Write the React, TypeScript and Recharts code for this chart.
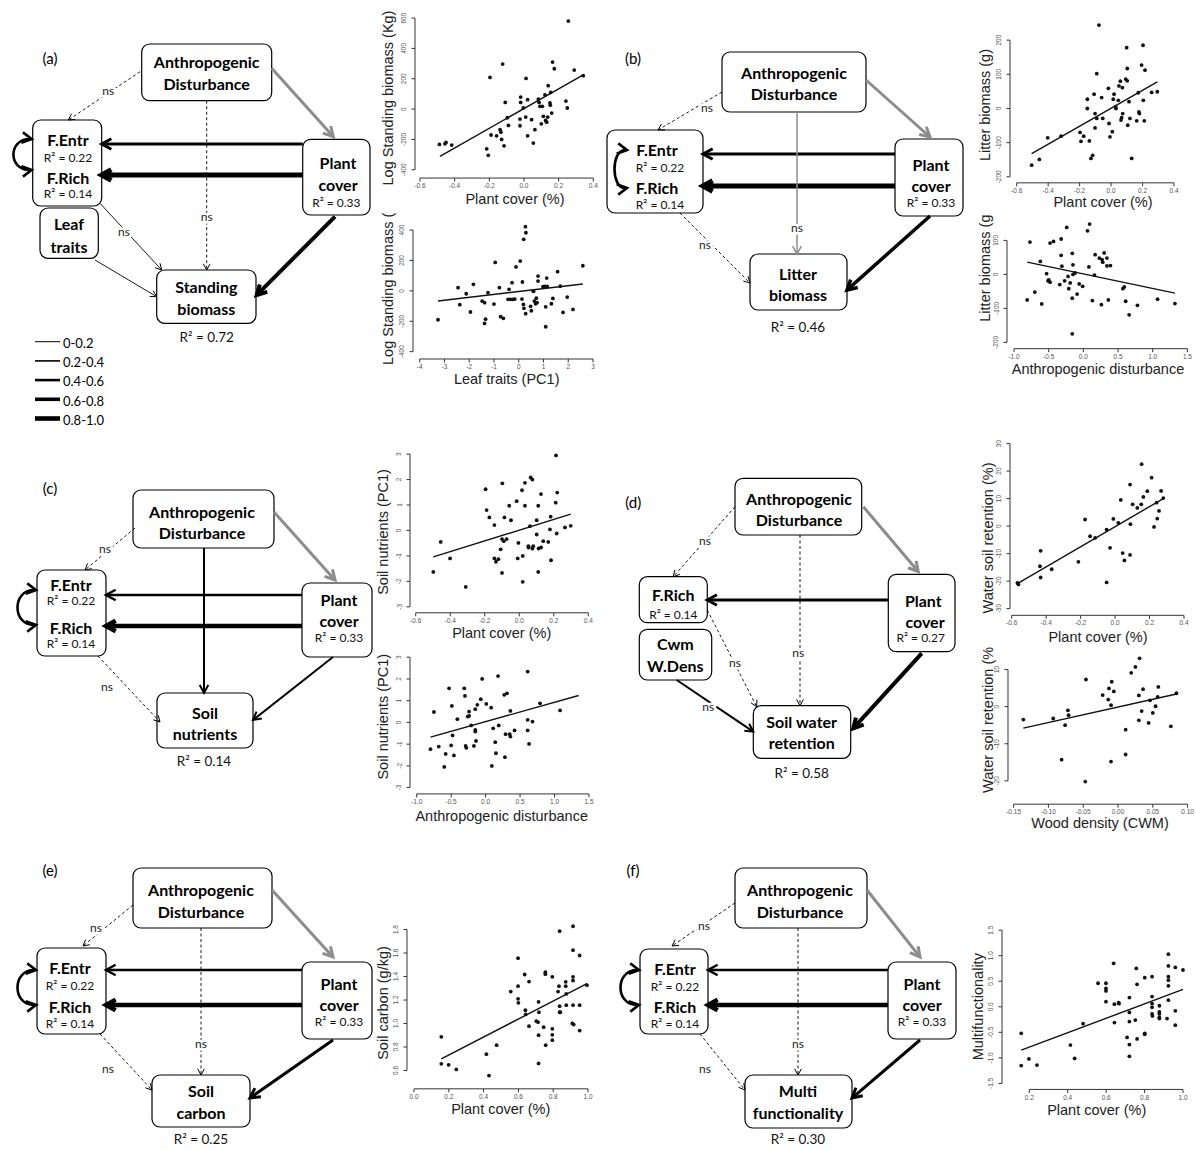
import React from "react";
import { ScatterChart, Scatter, XAxis, YAxis, ReferenceLine } from "recharts";

type Pair = [number, number];

// ---------- scatter data ----------
const standingByCover: Pair[] = [
  [-0.488, -233], [-0.456, -229], [-0.45, -220], [-0.417, -237], [-0.215, -262], [-0.206, -305],
  [-0.196, 209], [-0.19, -171], [-0.158, -176], [-0.138, -136], [-0.133, -152], [-0.129, -200],
  [-0.123, 297], [-0.115, -242], [-0.108, 44], [-0.096, -57], [-0.09, -108], [-0.019, 79],
  [-0.019, 44], [-0.023, -66], [-0.023, -110], [-0.004, 7], [0.012, 202], [0.01, -53],
  [0.021, 62], [0.021, -176], [0.044, -70], [0.054, -224], [0.063, -136], [0.083, 66],
  [0.087, 44], [0.092, 18], [0.1, -97], [0.106, 18], [0.112, -48], [0.121, 94], [0.125, -75],
  [0.131, -86], [0.14, 154], [0.137, -53], [0.15, 40], [0.154, 110], [0.152, 26], [0.16, -26],
  [0.165, 310], [0.175, 266], [0.242, 53], [0.25, 7], [0.256, 580], [0.29, 257], [0.342, 220],
];
const standingByCoverFit: Pair[] = [[-0.485, -312], [0.342, 226]];

const standingByLeaf: Pair[] = [
  [-3.26, -190], [-2.45, 21], [-2.38, -91], [-2.12, -19], [-1.95, -139], [-1.83, 43], [-1.48, -67],
  [-1.38, -78], [-1.38, -214], [-1.34, -186], [-1.24, -12], [-1.0, -87], [-0.95, 187], [-0.78, 21],
  [-0.73, -170], [-0.62, -181], [-0.43, -56], [-0.39, 10], [-0.33, -56], [-0.27, 54], [-0.23, -56],
  [-0.16, -54], [-0.11, 157], [0.06, 196], [0.13, -54], [0.15, 58], [0.19, -89], [0.2, 339],
  [0.21, -115], [0.27, 422], [0.28, -150], [0.29, 382], [0.48, -102], [0.51, -131], [0.58, 0],
  [0.6, -3], [0.63, -67], [0.68, -85], [0.71, -48], [0.74, -78], [0.78, 97], [0.78, 64],
  [0.98, 27], [1.05, 29], [1.09, -105], [1.09, -236], [1.13, 84], [1.15, 29], [1.32, -85],
  [1.38, -50], [1.57, 126], [1.68, 31], [1.79, -142], [1.96, -41], [2.19, -122], [2.59, 165],
];
const standingByLeafFit: Pair[] = [[-3.26, -67], [2.59, 45]];

const litterByCover: Pair[] = [
  [-0.505, -166], [-0.456, -149], [-0.403, -86], [-0.318, -81], [-0.197, -70], [-0.191, -96],
  [-0.174, -81], [-0.151, 27], [-0.151, 0], [-0.138, -95], [-0.128, -146], [-0.117, -137],
  [-0.108, 42], [-0.102, -15], [-0.102, -57], [-0.091, 102], [-0.091, -29], [-0.077, 244],
  [-0.06, 32], [-0.053, -29], [-0.017, 59], [-0.013, -44], [-0.007, -83], [0.008, -68],
  [0.014, 27], [0.019, 42], [0.029, 5], [0.031, 0], [0.046, 24], [0.05, 66], [0.059, 80],
  [0.063, -34], [0.067, -27], [0.072, 61], [0.074, -15], [0.093, 86], [0.099, 178], [0.103, 81],
  [0.103, 117], [0.106, -49], [0.114, 20], [0.12, -29], [0.131, -146], [0.163, -36], [0.173, 46],
  [0.177, -10], [0.18, -15], [0.194, 127], [0.203, 185], [0.205, 24], [0.216, 112], [0.211, -36],
  [0.258, 47], [0.294, 49],
];
const litterByCoverFit: Pair[] = [[-0.505, -132], [0.294, 78]];

const litterByDisturbance: Pair[] = [
  [-0.81, -75], [-0.77, 95], [-0.7, -52], [-0.62, 38], [-0.6, -87], [-0.53, 2], [-0.51, -19],
  [-0.5, -16], [-0.48, -23], [-0.48, 92], [-0.43, 97], [-0.34, -30], [-0.32, 104], [-0.32, 56],
  [-0.31, 24], [-0.27, -19], [-0.24, 138], [-0.22, -6], [-0.21, -42], [-0.19, -25], [-0.16, 62],
  [-0.16, -70], [-0.16, -175], [-0.15, 28], [-0.15, 0], [-0.12, 4], [-0.09, -58], [-0.06, -28],
  [-0.01, -35], [0.06, 128], [0.08, 22], [0.09, 148], [0.13, -77], [0.16, -2], [0.17, 58],
  [0.23, 48], [0.26, -89], [0.27, 43], [0.28, 36], [0.3, 63], [0.34, 48], [0.34, 25], [0.36, -75],
  [0.39, 26], [0.57, -42], [0.59, -37], [0.61, -79], [0.66, -119], [0.78, -91], [1.07, -73],
  [1.32, -86],
];
const litterByDisturbanceFit: Pair[] = [[-0.81, 36], [1.32, -55]];

const nutrientsByCover: Pair[] = [
  [-0.498, -1.63], [-0.455, -0.45], [-0.401, -1.1], [-0.31, -2.22], [-0.195, 1.62], [-0.189, 0.8],
  [-0.173, 0.51], [-0.144, 0.21], [-0.144, -1.1], [-0.135, -1.23], [-0.121, -1.13], [-0.108, -0.74],
  [-0.1, -0.34], [-0.1, -1.67], [-0.098, 1.85], [-0.09, -0.42], [-0.086, 0.51], [-0.073, -0.34],
  [-0.058, 0.97], [-0.048, 0.4], [-0.015, 1.15], [-0.009, -1.1], [-0.005, -0.49], [0.016, 1.58],
  [0.02, -2.02], [0.02, -1.0], [0.033, 1.87], [0.033, 0.97], [0.053, -0.62], [0.054, -0.67],
  [0.062, 0.17], [0.066, 2.08], [0.076, 2.0], [0.076, -0.71], [0.081, -0.62], [0.101, -0.16],
  [0.101, 0.4], [0.11, 0.97], [0.11, -1.63], [0.112, -0.71], [0.126, -0.67], [0.126, 1.43],
  [0.139, -0.42], [0.168, -0.45], [0.178, 0.04], [0.182, 0.54], [0.184, -1.17], [0.211, 1.09],
  [0.213, 2.95], [0.217, -0.12], [0.22, 1.49], [0.265, 0.12], [0.298, 0.18],
];
const nutrientsByCoverFit: Pair[] = [[-0.498, -1.04], [0.298, 0.64]];

const nutrientsByDisturbance: Pair[] = [
  [-0.8, -1.23], [-0.75, 0.48], [-0.68, -1.11], [-0.6, -2.05], [-0.58, -1.45], [-0.53, 1.57],
  [-0.5, -1.06], [-0.49, 0.76], [-0.48, -0.6], [-0.46, -1.52], [-0.41, 0.15], [-0.31, 1.57],
  [-0.3, 1.22], [-0.29, -1.08], [-0.28, -1.17], [-0.26, 0.27], [-0.24, 0.3], [-0.24, 0.5],
  [-0.21, -0.14], [-0.17, -1.08], [-0.15, -0.34], [-0.15, -0.42], [-0.15, 0.61], [-0.14, -0.85],
  [-0.12, 0.81], [-0.07, 1.07], [-0.05, 2.0], [0.01, 0.85], [0.08, 0.68], [0.09, -2.0],
  [0.11, -0.27], [0.14, -0.91], [0.15, -1.42], [0.18, 2.13], [0.19, -0.14], [0.27, 1.27],
  [0.28, -1.6], [0.29, -0.54], [0.31, 1.34], [0.35, -0.54], [0.36, -0.65], [0.36, 0.53],
  [0.42, -0.37], [0.61, 2.34], [0.61, 0.12], [0.61, -0.37], [0.63, -0.99], [0.68, 0.04],
  [0.79, 0.88], [1.08, 0.55],
];
const nutrientsByDisturbanceFit: Pair[] = [[-0.8, -0.68], [1.35, 1.24]];

const waterByCover: Pair[] = [
  [-0.567, -20.7], [-0.561, -21.2], [-0.436, -14.6], [-0.432, -9.0], [-0.432, -18.7], [-0.368, -15.7],
  [-0.213, -13.0], [-0.174, 2.4], [-0.145, -3.7], [-0.116, -4.3], [-0.049, -1.3], [-0.049, -20.5],
  [-0.029, -7.9], [-0.01, 2.6], [0.019, 1.2], [0.033, 9.5], [0.044, -9.8], [0.054, -12.5],
  [0.087, 15.1], [0.087, -10.5], [0.089, 0.7], [0.102, 7.9], [0.129, 6.6], [0.152, 7.9],
  [0.154, 22.5], [0.164, 10.6], [0.187, 12.7], [0.212, 17.6], [0.226, -0.3], [0.241, 8.5],
  [0.245, 2.7], [0.255, 5.5], [0.267, 12.8], [0.28, 10.2],
];
const waterByCoverFit: Pair[] = [[-0.567, -20.9], [0.28, 10.0]];

const waterByWood: Pair[] = [
  [-0.136, -3.5], [-0.093, -3.2], [-0.081, -14.3], [-0.076, -5.0], [-0.072, -1.0], [-0.071, -2.3],
  [-0.047, -20.2], [-0.046, 7.3], [-0.022, 3.1], [-0.014, 1.9], [-0.013, 4.9], [-0.01, 0.4],
  [-0.01, -14.8], [-0.009, 6.7], [-0.006, 4.1], [0.011, -6.2], [0.011, -12.9], [0.019, 9.1],
  [0.025, 10.7], [0.03, -3.7], [0.03, 3.0], [0.031, 13.0], [0.034, -1.2], [0.036, 4.7],
  [0.044, -4.4], [0.046, 1.7], [0.05, -1.7], [0.054, 0.1], [0.057, 2.6], [0.058, 5.3],
  [0.076, -5.3], [0.084, 3.6],
];
const waterByWoodFit: Pair[] = [[-0.136, -5.8], [0.084, 3.4]];

const carbonByCover: Pair[] = [
  [0.157, 0.887], [0.157, 0.657], [0.199, 0.648], [0.243, 0.609], [0.416, 0.739], [0.431, 0.557],
  [0.475, 0.816], [0.556, 1.272], [0.598, 1.556], [0.598, 1.318], [0.598, 1.21], [0.6, 1.176],
  [0.636, 1.417], [0.64, 1.113], [0.642, 1.077], [0.661, 1.357], [0.661, 0.977], [0.703, 1.02],
  [0.713, 1.011], [0.716, 1.184], [0.718, 1.096], [0.716, 0.901], [0.716, 0.66], [0.745, 0.969],
  [0.755, 1.437], [0.755, 1.42], [0.757, 0.816], [0.795, 1.397], [0.795, 0.955], [0.795, 0.904],
  [0.795, 0.858], [0.828, 1.272], [0.833, 1.318], [0.837, 1.786], [0.837, 1.148], [0.837, 1.096],
  [0.841, 1.096], [0.872, 1.318], [0.872, 1.355], [0.875, 1.252], [0.875, 1.156], [0.914, 1.828],
  [0.914, 1.624], [0.914, 1.397], [0.914, 1.366], [0.914, 1.156], [0.91, 1.0], [0.918, 0.991],
  [0.952, 1.579], [0.952, 1.156], [0.952, 0.94], [0.994, 1.326],
];
const carbonByCoverFit: Pair[] = [[0.157, 0.699], [0.994, 1.34]];

const multiByCover: Pair[] = [
  [0.158, -0.52], [0.158, -1.15], [0.198, -1.02], [0.24, -1.14], [0.414, -0.75], [0.436, -1.01],
  [0.48, -0.33], [0.558, 0.46], [0.599, 0.46], [0.599, 0.36], [0.599, 0.31], [0.599, 0.1],
  [0.639, 0.85], [0.643, 0.05], [0.643, -0.31], [0.665, 0.08], [0.667, 0.06], [0.709, -0.6],
  [0.721, 0.18], [0.721, -0.11], [0.721, -0.29], [0.721, -0.74], [0.721, -0.97], [0.752, -0.26],
  [0.757, 0.75], [0.761, 0.44], [0.761, -0.63], [0.801, 0.57], [0.801, -0.52], [0.801, -0.54],
  [0.839, 0.59], [0.839, 0.2], [0.839, 0.06], [0.839, -0.01], [0.839, -0.14], [0.841, -0.18],
  [0.877, 0.02], [0.877, -0.1], [0.877, -0.14], [0.877, -0.21], [0.877, -0.23], [0.917, -0.23],
  [0.924, 1.03], [0.924, 0.8], [0.924, 0.59], [0.924, 0.52], [0.924, 0.41], [0.924, 0.13],
  [0.96, 0.77], [0.96, -0.08], [0.96, -0.36], [1.0, 0.72],
];
const multiByCoverFit: Pair[] = [[0.158, -0.85], [1.0, 0.34]];

// ---------- tick values ----------
const coverTicks = [-0.6, -0.4, -0.2, 0, 0.2, 0.4];
const coverTicks01 = [0, 0.2, 0.4, 0.6, 0.8, 1.0];
const coverTicksF = [0.2, 0.4, 0.6, 0.8, 1.0];
const leafTicks = [-4, -3, -2, -1, 0, 1, 2, 3];
const disturbTicks = [-1, -0.5, 0, 0.5, 1, 1.5];
const woodTicks = [-0.15, -0.1, -0.05, 0, 0.05, 0.1];
const biomassTicks = [-400, -200, 0, 200, 400, 600];
const biomassTicks2 = [-400, -200, 0, 200, 400];
const litterTicks = [-200, -100, 0, 100, 200];
const litterTicks2 = [-200, -100, 0, 100];
const nutrientTicks = [-3, -2, -1, 0, 1, 2, 3];
const waterTicks = [-30, -20, -10, 0, 10, 20, 30];
const waterTicks2 = [-20, -10, 0, 10];
const carbonTicks = [0.6, 0.8, 1.0, 1.2, 1.4, 1.6, 1.8];
const multiTicks = [-1.5, -1, -0.5, 0, 0.5, 1, 1.5];

interface PlotSpec {
  data: Pair[];
  fit: Pair[];
  xTicks: number[];
  yTicks: number[];
  xDec: number;
  yDec: number;
  xPix: Pair; // pixel of first / last x tick
  yPix: Pair; // pixel of lowest / highest y tick
  xAxisY: number;
  yAxisX: number;
  xTitle: string;
  xTitlePos: Pair;
  yTitle: string;
  yTitlePos: Pair;
  yTitleStart?: boolean;
}

const plots: PlotSpec[] = [
  { data: standingByCover, fit: standingByCoverFit, xTicks: coverTicks, yTicks: biomassTicks, xDec: 1, yDec: 0,
    xPix: [420, 593.3], yPix: [170, 18.3], xAxisY: 178.3, yAxisX: 415,
    xTitle: "Plant cover (%)", xTitlePos: [515, 199], yTitle: "Log Standing biomass (Kg)", yTitlePos: [388, 98] },
  { data: standingByLeaf, fit: standingByLeafFit, xTicks: leafTicks, yTicks: biomassTicks2, xDec: 0, yDec: 0,
    xPix: [420, 593.3], yPix: [351.7, 230], xAxisY: 359, yAxisX: 413.3,
    xTitle: "Leaf traits (PC1)", xTitlePos: [506.7, 379], yTitle: "Log Standing biomass (", yTitlePos: [388, 365], yTitleStart: true },
  { data: litterByCover, fit: litterByCoverFit, xTicks: coverTicks, yTicks: litterTicks, xDec: 1, yDec: 0,
    xPix: [1016.7, 1174], yPix: [176.7, 40], xAxisY: 182.7, yAxisX: 1010,
    xTitle: "Plant cover (%)", xTitlePos: [1103, 201.7], yTitle: "Litter biomass (g)", yTitlePos: [985, 105] },
  { data: litterByDisturbance, fit: litterByDisturbanceFit, xTicks: disturbTicks, yTicks: litterTicks2, xDec: 1, yDec: 0,
    xPix: [1014.3, 1187.7], yPix: [342.7, 240.7], xAxisY: 349, yAxisX: 1007.3,
    xTitle: "Anthropogenic disturbance", xTitlePos: [1098, 369], yTitle: "Litter biomass (g", yTitlePos: [985, 321.7], yTitleStart: true },
  { data: nutrientsByCover, fit: nutrientsByCoverFit, xTicks: coverTicks, yTicks: nutrientTicks, xDec: 1, yDec: 0,
    xPix: [415.7, 588.3], yPix: [606.7, 454], xAxisY: 612.7, yAxisX: 410,
    xTitle: "Plant cover (%)", xTitlePos: [501.7, 633], yTitle: "Soil nutrients (PC1)", yTitlePos: [382.7, 532] },
  { data: nutrientsByDisturbance, fit: nutrientsByDisturbanceFit, xTicks: disturbTicks, yTicks: nutrientTicks, xDec: 1, yDec: 0,
    xPix: [416.7, 589], yPix: [787.7, 657.3], xAxisY: 794, yAxisX: 410,
    xTitle: "Anthropogenic disturbance", xTitlePos: [501.7, 816], yTitle: "Soil nutrients (PC1)", yTitlePos: [383.3, 716.7] },
  { data: waterByCover, fit: waterByCoverFit, xTicks: coverTicks, yTicks: waterTicks, xDec: 1, yDec: 0,
    xPix: [1011.7, 1184], yPix: [608.3, 443.3], xAxisY: 615, yAxisX: 1010,
    xTitle: "Plant cover (%)", xTitlePos: [1098, 637.3], yTitle: "Water soil retention (%)", yTitlePos: [988.3, 538] },
  { data: waterByWood, fit: waterByWoodFit, xTicks: woodTicks, yTicks: waterTicks2, xDec: 2, yDec: 0,
    xPix: [1013.3, 1187.3], yPix: [780.7, 669.3], xAxisY: 804, yAxisX: 1007.7,
    xTitle: "Wood density (CWM)", xTitlePos: [1100, 823.3], yTitle: "Water soil retention (%", yTitlePos: [988.3, 793], yTitleStart: true },
  { data: carbonByCover, fit: carbonByCoverFit, xTicks: coverTicks01, yTicks: carbonTicks, xDec: 1, yDec: 1,
    xPix: [414.3, 588.3], yPix: [1071, 930], xAxisY: 1089.3, yAxisX: 407.3,
    xTitle: "Plant cover (%)", xTitlePos: [500.7, 1109.3], yTitle: "Soil carbon (g/kg)", yTitlePos: [382.7, 1003] },
  { data: multiByCover, fit: multiByCoverFit, xTicks: coverTicksF, yTicks: multiTicks, xDec: 1, yDec: 1,
    xPix: [1029, 1182.7], yPix: [1083.3, 930], xAxisY: 1089.3, yAxisX: 1001.7,
    xTitle: "Plant cover (%)", xTitlePos: [1096.7, 1110], yTitle: "Multifunctionality", yTitlePos: [978.3, 1006.7] },
];

const R_FONT = "'Liberation Sans', Arial, sans-serif";
const D_FONT = "Lato, 'Open Sans', sans-serif";
const YW = 30;
const XH = 22;
const MT = 4;
const MR = 4;

const Dot = (p: any) => <circle cx={p.cx} cy={p.cy} r={1.9} fill="#111" />;

function ScatterPlot({ s }: { s: PlotSpec }) {
  const xt0 = s.xTicks[0];
  const xt1 = s.xTicks[s.xTicks.length - 1];
  const yt0 = s.yTicks[0];
  const yt1 = s.yTicks[s.yTicks.length - 1];
  const kx = (s.xPix[1] - s.xPix[0]) / (xt1 - xt0);
  const ky = (s.yPix[0] - s.yPix[1]) / (yt1 - yt0);
  const xmin = xt0 - (s.xPix[0] - s.yAxisX) / kx;
  const ymin = yt0 - (s.xAxisY - s.yPix[0]) / ky;
  const xmax = Math.max(xt1 + 0.04 * (xt1 - xt0), Math.max(...s.data.map((d) => d[0])) + 0.03 * (xt1 - xt0));
  const ymax = Math.max(yt1 + 0.04 * (yt1 - yt0), Math.max(...s.data.map((d) => d[1])) + 0.03 * (yt1 - yt0));
  const plotW = (xmax - xmin) * kx;
  const plotH = (ymax - ymin) * ky;
  const pts = s.data.map(([x, y]) => ({ x, y }));

  const xTick = (p: any) => (
    <text x={p.x} y={p.y} dy="0.71em" textAnchor="middle" fontSize={6.5} fill="#555" fontFamily={R_FONT}>
      {Number(p.payload.value).toFixed(s.xDec)}
    </text>
  );
  const yTick = (p: any) => (
    <text x={p.x} y={p.y} transform={`rotate(-90 ${p.x} ${p.y})`} textAnchor="middle" fontSize={6.5} fill="#555" fontFamily={R_FONT}>
      {Number(p.payload.value).toFixed(s.yDec)}
    </text>
  );

  return (
    <div style={{ position: "absolute", left: s.yAxisX - YW, top: s.xAxisY - plotH - MT }}>
      <ScatterChart width={plotW + YW + MR} height={plotH + MT + XH} margin={{ top: MT, right: MR, bottom: 0, left: 0 }}>
        <XAxis type="number" dataKey="x" domain={[xmin, xmax]} ticks={s.xTicks} interval={0} height={XH}
          axisLine={false} tickLine={{ stroke: "#333" }} tickSize={3.5} tickMargin={2} tick={xTick} />
        <YAxis type="number" dataKey="y" domain={[ymin, ymax]} ticks={s.yTicks} interval={0} width={YW}
          axisLine={false} tickLine={{ stroke: "#333" }} tickSize={3.5} tickMargin={5} tick={yTick} />
        <ReferenceLine segment={[{ x: xt0, y: ymin }, { x: xt1, y: ymin }]} stroke="#333" ifOverflow="visible" />
        <ReferenceLine segment={[{ x: xmin, y: yt0 }, { x: xmin, y: yt1 }]} stroke="#333" ifOverflow="visible" />
        <ReferenceLine segment={[{ x: s.fit[0][0], y: s.fit[0][1] }, { x: s.fit[1][0], y: s.fit[1][1] }]}
          stroke="#111" strokeWidth={1.4} ifOverflow="visible" />
        <Scatter data={pts} isAnimationActive={false} shape={Dot} />
      </ScatterChart>
    </div>
  );
}

// ---------- path diagrams ----------
interface Box { x: number; y: number; w: number; h: number }
interface Txt { t: string; x: number; y: number; bold?: boolean; r2?: boolean; size?: number }
interface Arr { from: Pair; to: Pair; w: number; grey?: boolean; dash?: boolean }
interface Curve { x: number; y1: number; y2: number; bx: number }
interface Diagram { tag: string; tagPos: Pair; boxes: Box[]; texts: Txt[]; arrows: Arr[]; ns: Pair[]; curve?: Curve }

const diagrams: Diagram[] = [
  {
    tag: "(a)", tagPos: [50, 58],
    boxes: [
      { x: 141.7, y: 44, w: 130, h: 56.7 }, { x: 32.7, y: 120, w: 69, h: 86 },
      { x: 302.7, y: 139.3, w: 67.3, h: 75.7 }, { x: 40, y: 208, w: 58.3, h: 50.3 },
      { x: 156.7, y: 270, w: 99.3, h: 53.3 },
    ],
    texts: [
      { t: "Anthropogenic", x: 206.7, y: 61.7, bold: true }, { t: "Disturbance", x: 206.7, y: 83.3, bold: true },
      { t: "F.Entr", x: 68, y: 139.5, bold: true }, { t: "0.22", x: 68, y: 157, r2: true },
      { t: "F.Rich", x: 68, y: 177, bold: true }, { t: "0.14", x: 68, y: 193.5, r2: true },
      { t: "Plant", x: 338, y: 162.7, bold: true }, { t: "cover", x: 338, y: 184.5, bold: true },
      { t: "0.33", x: 336.3, y: 202, r2: true },
      { t: "Leaf", x: 69, y: 223.3, bold: true }, { t: "traits", x: 69, y: 246.7, bold: true },
      { t: "Standing", x: 206.3, y: 286.7, bold: true }, { t: "biomass", x: 206.3, y: 308.3, bold: true },
      { t: "0.72", x: 206.7, y: 336.7, r2: true, size: 13.5 },
    ],
    arrows: [
      { from: [302.7, 144], to: [101.7, 144], w: 3 },
      { from: [302.7, 175], to: [101.7, 175], w: 5 },
      { from: [271.7, 68.3], to: [333.3, 136.7], w: 3, grey: true },
      { from: [140, 71.7], to: [68.3, 120], w: 0.9, dash: true },
      { from: [206.7, 100.7], to: [206.7, 270], w: 0.9, dash: true },
      { from: [100, 203.3], to: [161.7, 270], w: 0.9 },
      { from: [95, 260], to: [156.7, 296.7], w: 0.9 },
      { from: [335, 216.7], to: [256.7, 295], w: 4 },
    ],
    ns: [[108.3, 90], [206.7, 216.7], [124, 231.7]],
    curve: { x: 31.7, y1: 139, y2: 170, bx: 8 },
  },
  {
    tag: "(b)", tagPos: [633, 58],
    boxes: [
      { x: 722, y: 52, w: 144, h: 60 }, { x: 607, y: 130, w: 96, h: 83 },
      { x: 895, y: 139, w: 68, h: 77 }, { x: 750, y: 254, w: 97, h: 56 },
    ],
    texts: [
      { t: "Anthropogenic", x: 794, y: 72, bold: true }, { t: "Disturbance", x: 794, y: 93, bold: true },
      { t: "F.Entr", x: 657, y: 149.5, bold: true }, { t: "0.22", x: 660, y: 167, r2: true },
      { t: "F.Rich", x: 657, y: 187.5, bold: true }, { t: "0.14", x: 660, y: 204.5, r2: true },
      { t: "Plant", x: 931, y: 164, bold: true }, { t: "cover", x: 931, y: 185.5, bold: true },
      { t: "0.33", x: 931, y: 202.5, r2: true },
      { t: "Litter", x: 798, y: 273, bold: true }, { t: "biomass", x: 798, y: 294, bold: true },
      { t: "0.46", x: 798, y: 327, r2: true, size: 13.5 },
    ],
    arrows: [
      { from: [895, 154], to: [703, 154], w: 3 },
      { from: [895, 186], to: [703, 186], w: 5 },
      { from: [866, 80], to: [930, 137], w: 3, grey: true },
      { from: [722, 92], to: [658, 130], w: 0.9, dash: true },
      { from: [797, 112], to: [797, 254], w: 1.5, grey: true },
      { from: [680, 213], to: [750, 283], w: 0.9, dash: true },
      { from: [930, 216], to: [847, 290], w: 3.5 },
    ],
    ns: [[707, 107], [797, 227], [705, 244]],
    curve: { x: 627, y1: 150, y2: 188, bx: 611 },
  },
  {
    tag: "(c)", tagPos: [50, 488],
    boxes: [
      { x: 133, y: 490, w: 141, h: 58 }, { x: 37, y: 570, w: 69, h: 86 },
      { x: 302, y: 583, w: 70, h: 74 }, { x: 157, y: 693, w: 96, h: 55 },
    ],
    texts: [
      { t: "Anthropogenic", x: 202, y: 511, bold: true }, { t: "Disturbance", x: 202, y: 532, bold: true },
      { t: "F.Entr", x: 71, y: 584, bold: true }, { t: "0.22", x: 71, y: 600.5, r2: true },
      { t: "F.Rich", x: 71, y: 627.5, bold: true }, { t: "0.14", x: 71, y: 643.5, r2: true },
      { t: "Plant", x: 339, y: 599, bold: true }, { t: "cover", x: 339, y: 620.5, bold: true },
      { t: "0.33", x: 339, y: 637.5, r2: true },
      { t: "Soil", x: 205, y: 712, bold: true }, { t: "nutrients", x: 205, y: 733, bold: true },
      { t: "0.14", x: 204, y: 761, r2: true, size: 13.5 },
    ],
    arrows: [
      { from: [302, 595], to: [106, 595], w: 2.5 },
      { from: [302, 626], to: [106, 626], w: 4.5 },
      { from: [274, 512], to: [335, 580], w: 3, grey: true },
      { from: [135, 528], to: [85, 570], w: 0.9, dash: true },
      { from: [204, 548], to: [204, 693], w: 2 },
      { from: [98, 656], to: [160, 722], w: 0.9, dash: true },
      { from: [333, 657], to: [253, 720], w: 2 },
    ],
    ns: [[105, 548], [107, 686]],
    curve: { x: 36, y1: 590, y2: 625, bx: 12 },
  },
  {
    tag: "(d)", tagPos: [633.3, 501.7],
    boxes: [
      { x: 735, y: 478.3, w: 126.7, h: 56.7 }, { x: 639.3, y: 576.7, w: 68, h: 46 },
      { x: 639.3, y: 629.3, w: 72.4, h: 50.7 }, { x: 888.3, y: 574.3, w: 66.7, h: 77.4 },
      { x: 753.3, y: 705.7, w: 97.4, h: 52.6 },
    ],
    texts: [
      { t: "Anthropogenic", x: 799, y: 498.3, bold: true }, { t: "Disturbance", x: 799, y: 519, bold: true },
      { t: "F.Rich", x: 673.3, y: 594, bold: true }, { t: "0.14", x: 673.3, y: 614, r2: true },
      { t: "Cwm", x: 675.3, y: 643.3, bold: true }, { t: "W.Dens", x: 675.3, y: 665.7, bold: true },
      { t: "Plant", x: 923.3, y: 600, bold: true }, { t: "cover", x: 925, y: 621.2, bold: true },
      { t: "0.27", x: 920.7, y: 637.2, r2: true },
      { t: "Soil water", x: 801.7, y: 721.7, bold: true }, { t: "retention", x: 801.7, y: 742.7, bold: true },
      { t: "0.58", x: 801.7, y: 773.3, r2: true, size: 13.5 },
    ],
    arrows: [
      { from: [888.3, 600], to: [707.3, 600], w: 3 },
      { from: [863.3, 506.7], to: [918.3, 571.7], w: 3, grey: true },
      { from: [735, 506.7], to: [673.3, 576.7], w: 0.9, dash: true },
      { from: [800, 535], to: [800, 705.7], w: 0.9, dash: true },
      { from: [707.3, 610], to: [756.7, 706.7], w: 0.9, dash: true },
      { from: [676.7, 680], to: [753.3, 731.7], w: 2 },
      { from: [921.7, 653.3], to: [853.3, 728.3], w: 4 },
    ],
    ns: [[705, 540], [798.3, 652.3], [735, 662.7], [708.3, 706.7]],
  },
  {
    tag: "(e)", tagPos: [50, 870],
    boxes: [
      { x: 133, y: 868, w: 139, h: 60 }, { x: 37, y: 948, w: 69, h: 86 },
      { x: 302, y: 962, w: 70, h: 77 }, { x: 152, y: 1075, w: 98, h: 52 },
    ],
    texts: [
      { t: "Anthropogenic", x: 201, y: 889, bold: true }, { t: "Disturbance", x: 201, y: 911, bold: true },
      { t: "F.Entr", x: 70, y: 967.5, bold: true }, { t: "0.22", x: 70, y: 985, r2: true },
      { t: "F.Rich", x: 70, y: 1006.5, bold: true }, { t: "0.14", x: 70, y: 1023.5, r2: true },
      { t: "Plant", x: 339, y: 983, bold: true }, { t: "cover", x: 339, y: 1004.5, bold: true },
      { t: "0.33", x: 339, y: 1021.5, r2: true },
      { t: "Soil", x: 201, y: 1090, bold: true }, { t: "carbon", x: 201, y: 1112, bold: true },
      { t: "0.25", x: 201, y: 1139, r2: true, size: 13.5 },
    ],
    arrows: [
      { from: [302, 970], to: [106, 970], w: 2.5 },
      { from: [302, 1005], to: [106, 1005], w: 4.5 },
      { from: [272, 890], to: [333, 957], w: 3, grey: true },
      { from: [133, 905], to: [83, 946], w: 0.9, dash: true },
      { from: [201, 928], to: [201, 1075], w: 0.9, dash: true },
      { from: [100, 1034], to: [152, 1090], w: 0.9, dash: true },
      { from: [333, 1040], to: [250, 1098], w: 3 },
    ],
    ns: [[96, 927], [201, 1043], [108, 1068]],
    curve: { x: 36, y1: 970, y2: 1005, bx: 12 },
  },
  {
    tag: "(f)", tagPos: [633, 870],
    boxes: [
      { x: 735, y: 868, w: 132, h: 60 }, { x: 640, y: 949, w: 68, h: 85 },
      { x: 888, y: 962, w: 68, h: 77 }, { x: 745, y: 1075, w: 107, h: 53 },
    ],
    texts: [
      { t: "Anthropogenic", x: 800, y: 889, bold: true }, { t: "Disturbance", x: 800, y: 911, bold: true },
      { t: "F.Entr", x: 675, y: 968.5, bold: true }, { t: "0.22", x: 675, y: 986, r2: true },
      { t: "F.Rich", x: 675, y: 1006.5, bold: true }, { t: "0.14", x: 675, y: 1023.5, r2: true },
      { t: "Plant", x: 922, y: 983, bold: true }, { t: "cover", x: 922, y: 1004.5, bold: true },
      { t: "0.33", x: 922, y: 1021.5, r2: true },
      { t: "Multi", x: 798, y: 1090, bold: true }, { t: "functionality", x: 798, y: 1112, bold: true },
      { t: "0.30", x: 798, y: 1139, r2: true, size: 13.5 },
    ],
    arrows: [
      { from: [888, 970], to: [708, 970], w: 2.5 },
      { from: [888, 1005], to: [708, 1005], w: 4.5 },
      { from: [867, 890], to: [920, 957], w: 3, grey: true },
      { from: [735, 903], to: [672, 946], w: 0.9, dash: true },
      { from: [798, 928], to: [798, 1075], w: 0.9, dash: true },
      { from: [700, 1034], to: [745, 1090], w: 0.9, dash: true },
      { from: [920, 1040], to: [852, 1098], w: 3 },
    ],
    ns: [[704, 925], [798, 1043], [705, 1068]],
    curve: { x: 639, y1: 970, y2: 1005, bx: 615 },
  },
];

const legendLabels = ["0-0.2", "0.2-0.4", "0.4-0.6", "0.6-0.8", "0.8-1.0"];
const legendWidths = [1, 1.6, 2.6, 3.6, 4.6];

function head(tip: Pair, ang: number, w: number, color: string) {
  const len = w >= 2.5 ? 11 : w >= 1.5 ? 9 : 7;
  const spread = 0.5;
  const a = [tip[0] - len * Math.cos(ang - spread), tip[1] - len * Math.sin(ang - spread)];
  const b = [tip[0] - len * Math.cos(ang + spread), tip[1] - len * Math.sin(ang + spread)];
  return (
    <polyline points={`${a[0]},${a[1]} ${tip[0]},${tip[1]} ${b[0]},${b[1]}`} fill="none" stroke={color}
      strokeWidth={Math.max(w, 1)} strokeLinejoin="miter" strokeLinecap="butt" />
  );
}

function ArrowLine({ a }: { a: Arr }) {
  const color = a.grey ? "#8c8c8c" : "#000";
  const ang = Math.atan2(a.to[1] - a.from[1], a.to[0] - a.from[0]);
  const back = a.w / 2;
  const ex = a.to[0] - back * Math.cos(ang);
  const ey = a.to[1] - back * Math.sin(ang);
  return (
    <g>
      <line x1={a.from[0]} y1={a.from[1]} x2={ex} y2={ey} stroke={color} strokeWidth={a.w}
        strokeDasharray={a.dash ? "3 2.5" : undefined} />
      {head(a.to, ang, a.w, color)}
    </g>
  );
}

function DiagramView({ d }: { d: Diagram }) {
  return (
    <g>
      <text x={d.tagPos[0]} y={d.tagPos[1]} textAnchor="middle" dominantBaseline="central" fontSize={15} fontFamily={D_FONT}>
        {d.tag}
      </text>
      {d.boxes.map((b, i) => (
        <rect key={i} x={b.x} y={b.y} width={b.w} height={b.h} rx={8} fill="#fff" stroke="#000" strokeWidth={1.2} />
      ))}
      {d.arrows.map((a, i) => <ArrowLine key={i} a={a} />)}
      {d.curve && (
        <g>
          <path d={`M ${d.curve.x - 2} ${d.curve.y1} C ${d.curve.bx} ${d.curve.y1}, ${d.curve.bx} ${d.curve.y2}, ${d.curve.x - 2} ${d.curve.y2}`}
            fill="none" stroke="#000" strokeWidth={2.6} />
          {head([d.curve.x, d.curve.y1], 0.15, 2.6, "#000")}
          {head([d.curve.x, d.curve.y2], -0.15, 2.6, "#000")}
        </g>
      )}
      {d.ns.map((p, i) => (
        <text key={i} x={p[0]} y={p[1]} textAnchor="middle" dominantBaseline="central" fontSize={12} fontFamily={D_FONT}
          fill="#222" stroke="#fff" strokeWidth={5} paintOrder="stroke">
          ns
        </text>
      ))}
      {d.texts.map((t, i) =>
        t.r2 ? (
          <text key={i} x={t.x} y={t.y} textAnchor="middle" dominantBaseline="central" fontSize={t.size ?? 12}
            fontFamily={D_FONT} fill="#111">
            {`R² = ${t.t}`}
          </text>
        ) : (
          <text key={i} x={t.x} y={t.y} textAnchor="middle" dominantBaseline="central" fontSize={16}
            fontWeight={t.bold ? 700 : 400} fontFamily={D_FONT} fill="#000">
            {t.t}
          </text>
        )
      )}
    </g>
  );
}

export default function App() {
  return (
    <div style={{ position: "absolute", left: 0, top: 0, width: 1196, height: 1150, background: "#fff", overflow: "hidden" }}>
      <svg width={1196} height={1150} style={{ position: "absolute", left: 0, top: 0 }}>
        {diagrams.map((d, i) => <DiagramView key={i} d={d} />)}
        {legendLabels.map((l, i) => (
          <g key={l}>
            <line x1={35} x2={60} y1={341.7 + i * 19.2} y2={341.7 + i * 19.2} stroke="#000" strokeWidth={legendWidths[i]} />
            <text x={63} y={343 + i * 19.2} dominantBaseline="central" fontSize={13} fontFamily={D_FONT}>{l}</text>
          </g>
        ))}
        {plots.map((s, i) => (
          <g key={i} fontFamily={R_FONT} fill="#222">
            <text x={s.xTitlePos[0]} y={s.xTitlePos[1]} textAnchor="middle" dominantBaseline="central" fontSize={14.5}>
              {s.xTitle}
            </text>
            <text transform={`translate(${s.yTitlePos[0]},${s.yTitlePos[1]}) rotate(-90)`}
              textAnchor={s.yTitleStart ? "start" : "middle"} dominantBaseline="central" fontSize={14.5}>
              {s.yTitle}
            </text>
          </g>
        ))}
      </svg>
      {plots.map((s, i) => <ScatterPlot key={i} s={s} />)}
    </div>
  );
}
